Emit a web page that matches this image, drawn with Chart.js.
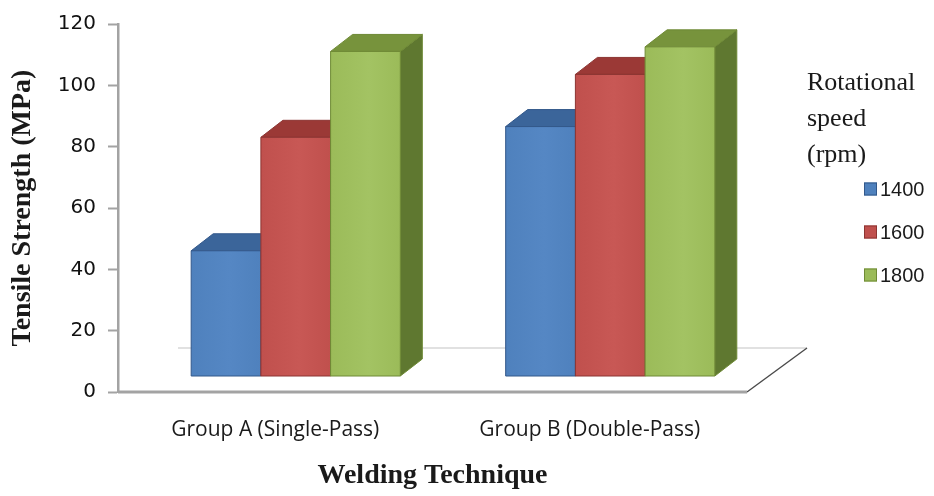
<!DOCTYPE html>
<html>
<head>
<meta charset="utf-8">
<script src="https://cdn.jsdelivr.net/npm/chart.js@4.4.1/dist/chart.umd.min.js"></script>
<style>
  html, body { margin: 0; padding: 0; background: #ffffff; }
  #wrap { width: 934px; height: 496px; position: relative; }
</style>
</head>
<body>
<div id="wrap"><canvas id="chart" width="934" height="496"></canvas></div>
<script>
// Tensile strength per welding technique and rotational speed
const categories = ['Group A (Single-Pass)', 'Group B (Double-Pass)'];
const speedLabels = ['1400', '1600', '1800'];
const strength1400 = [41, 81.5];
const strength1600 = [78, 98.5];
const strength1800 = [106, 107.5];
const legendTitleLines = ['Rotational', 'speed', '(rpm)'];

// Face shading for each series: front, top, right side, outline
const palette = [
  { front: '#4f81bd', frontMid: '#5587c4', top: '#3b659a', side: '#2f5480', edge: '#33588a' },
  { front: '#c0504d', frontMid: '#c85855', top: '#9b3936', side: '#82302d', edge: '#8c3532' },
  { front: '#9bbb59', frontMid: '#a3c363', top: '#77933c', side: '#5f7830', edge: '#6f8a36' }
];

// Oblique projection used for the 3-D look
const FLOOR_DEPTH = { dx: 60, dy: -44 };   // full floor depth
const BAR_SHIFT = { dx: 20.5, dy: -15.5 }; // bars sit inside the floor
const BAR_DEPTH = { dx: 22, dy: -17 };     // thickness of each column

function poly(ctx, pts, fill, stroke) {
  ctx.beginPath();
  ctx.moveTo(pts[0][0], pts[0][1]);
  for (let i = 1; i < pts.length; i++) ctx.lineTo(pts[i][0], pts[i][1]);
  ctx.closePath();
  ctx.fillStyle = fill;
  ctx.fill();
  if (stroke) {
    ctx.strokeStyle = stroke;
    ctx.lineWidth = 1;
    ctx.stroke();
  }
}

const columns3d = {
  id: 'columns3d',
  beforeDatasetsDraw(chart) {
    const ctx = chart.ctx;
    const area = chart.chartArea;
    const yScale = chart.scales.y;
    const base = yScale.getPixelForValue(0);
    ctx.save();

    // floor outline
    ctx.lineCap = 'butt';
    ctx.strokeStyle = '#c4c4c4';
    ctx.lineWidth = 1.2;
    ctx.beginPath();
    ctx.moveTo(area.left + FLOOR_DEPTH.dx, base + FLOOR_DEPTH.dy);
    ctx.lineTo(area.right + FLOOR_DEPTH.dx, base + FLOOR_DEPTH.dy);
    ctx.stroke();

    ctx.strokeStyle = '#4a4a4a';
    ctx.lineWidth = 1.4;
    ctx.beginPath();
    ctx.moveTo(area.right, base);
    ctx.lineTo(area.right + FLOOR_DEPTH.dx, base + FLOOR_DEPTH.dy);
    ctx.stroke();

    ctx.strokeStyle = '#a3a3a3';
    ctx.lineWidth = 3;
    ctx.beginPath();
    ctx.moveTo(area.left, base);
    ctx.lineTo(area.right, base);
    ctx.stroke();

    // columns, drawn left to right so each one covers its neighbour's side
    const nCat = chart.data.labels.length;
    const nSet = chart.data.datasets.length;
    for (let i = 0; i < nCat; i++) {
      for (let d = 0; d < nSet; d++) {
        const el = chart.getDatasetMeta(d).data[i];
        const col = palette[d];
        const left = el.x - el.width / 2 + BAR_SHIFT.dx;
        const right = left + el.width;
        const top = el.y + BAR_SHIFT.dy;
        const bottom = el.base + BAR_SHIFT.dy;

        poly(ctx, [
          [right, bottom], [right + BAR_DEPTH.dx, bottom + BAR_DEPTH.dy],
          [right + BAR_DEPTH.dx, top + BAR_DEPTH.dy], [right, top]
        ], col.side, col.edge);

        poly(ctx, [
          [left, top], [left + BAR_DEPTH.dx, top + BAR_DEPTH.dy],
          [right + BAR_DEPTH.dx, top + BAR_DEPTH.dy], [right, top]
        ], col.top, col.edge);

        const grad = ctx.createLinearGradient(left, 0, right, 0);
        grad.addColorStop(0, col.front);
        grad.addColorStop(0.55, col.frontMid);
        grad.addColorStop(1, col.front);
        poly(ctx, [[left, top], [right, top], [right, bottom], [left, bottom]], grad, col.edge);
      }
    }
    ctx.restore();
    return false;
  }
};

const sideLegend = {
  id: 'sideLegend',
  afterDraw(chart) {
    const ctx = chart.ctx;
    ctx.save();
    ctx.fillStyle = '#1a1a1a';
    ctx.textAlign = 'left';
    ctx.textBaseline = 'middle';
    ctx.font = '26px "Liberation Serif", "Times New Roman", serif';
    legendTitleLines.forEach((line, k) => ctx.fillText(line, 807, 83 + k * 36));

    ctx.font = '20px "Liberation Sans", Arial, sans-serif';
    chart.data.datasets.forEach((ds, d) => {
      const cy = 189 + d * 43;
      ctx.fillStyle = palette[d].front;
      ctx.fillRect(864, cy - 6.5, 13, 13);
      ctx.strokeStyle = palette[d].edge;
      ctx.lineWidth = 1;
      ctx.strokeRect(864.5, cy - 6, 12, 12);
      ctx.fillStyle = '#1a1a1a';
      ctx.fillText(ds.label, 880, cy + 1);
    });
    ctx.restore();
  }
};

const seriesValues = [strength1400, strength1600, strength1800];

new Chart(document.getElementById('chart'), {
  type: 'bar',
  data: {
    labels: categories,
    datasets: speedLabels.map((s, d) => ({
      label: s,
      data: seriesValues[d],
      backgroundColor: palette[d].front,
      borderColor: palette[d].edge
    }))
  },
  options: {
    responsive: false,
    animation: false,
    devicePixelRatio: 1,
    layout: { padding: { left: 0, right: 187, top: 22, bottom: 0 } },
    datasets: { bar: { categoryPercentage: 0.665, barPercentage: 1 } },
    plugins: { legend: { display: false }, tooltip: { enabled: false } },
    scales: {
      x: {
        grid: { display: false, drawTicks: false },
        border: { display: false },
        ticks: {
          color: '#1a1a1a',
          padding: 25,
          font: { family: '"Open Sans", sans-serif', size: 21 }
        },
        title: {
          display: true,
          text: 'Welding Technique',
          color: '#1a1a1a',
          padding: { top: 0, bottom: 3 },
          font: { family: '"Liberation Serif", "Times New Roman", serif', size: 28, weight: 'bold' }
        },
        afterFit(scale) { scale.height = 104; }
      },
      y: {
        min: 0,
        max: 120,
        ticks: {
          stepSize: 20,
          color: '#111111',
          padding: 12,
          font: { family: '"DejaVu Sans", sans-serif', size: 20 }
        },
        grid: {
          drawOnChartArea: false,
          drawTicks: true,
          tickLength: 10,
          tickColor: '#a3a3a3',
          tickWidth: 2
        },
        border: { display: true, color: '#a3a3a3', width: 2.5 },
        title: {
          display: true,
          text: 'Tensile Strength (MPa)',
          color: '#1a1a1a',
          padding: { top: 6, bottom: 0 },
          font: { family: '"Liberation Serif", "Times New Roman", serif', size: 28, weight: 'bold' }
        },
        afterFit(scale) { scale.width = 118; }
      }
    }
  },
  plugins: [columns3d, sideLegend]
});
</script>
</body>
</html>
